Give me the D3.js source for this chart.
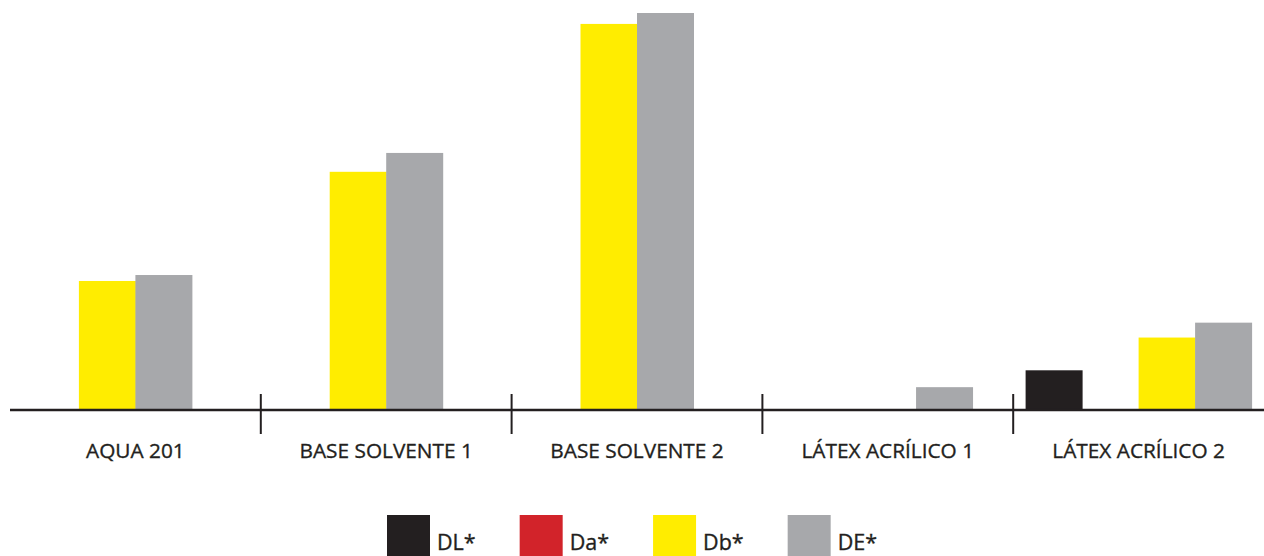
<!DOCTYPE html>
<html lang="es">
<head>
  <meta charset="UTF-8">
  <title>DL* Da* Db* DE*</title>
  <script src="https://d3js.org/d3.v7.min.js"></script>
  <style>
    html, body {
      padding: 0;
      margin: 0;
      background: #fff;
    }
    svg {
      display: block;
      font-family: "Open Sans", "Noto Sans", sans-serif;
    }
    text {
      stroke: #231f20;
      stroke-width: 0.35px;
    }
  </style>
</head>
<body>
  <div id="chart"></div>
  <script>
    // categories and series (null = no bar slot in that group)
    var categories = ["AQUA 201", "BASE SOLVENTE 1", "BASE SOLVENTE 2", "LÁTEX ACRÍLICO 1", "LÁTEX ACRÍLICO 2"];
    var seriesNames = ["DL*", "Da*", "Db*", "DE*"];
    var DL = [null, null, null, 0, 0.40];
    var Da = [null, null, null, null, 0];
    var Db = [1.30, 2.40, 3.89, 0, 0.73];
    var DE = [1.36, 2.59, 4.00, 0.23, 0.88];
    var colors = ["#231f20", "#d2232a", "#ffed00", "#a7a8ab"];

    var width = 1264, height = 556;
    var margin = {top: 13, right: 0, bottom: 146, left: 10};
    var baseY = height - margin.bottom; // 410
    var barWidth = 56.5;

    var svg = d3.select("#chart").append("svg")
      .attr("width", width)
      .attr("height", height);

    var x = d3.scaleBand()
      .domain(categories)
      .range([margin.left, width - margin.right]);

    var y = d3.scaleLinear()
      .domain([0, 4])
      .range([baseY, margin.top]);

    var color = d3.scaleOrdinal().domain(seriesNames).range(colors);

    var allSeries = [DL, Da, Db, DE];

    // build bars: per group, only slots that exist are laid out, centred in the group
    var bars = [];
    categories.forEach(function(cat, i) {
      var keys = seriesNames.filter(function(s, j) { return allSeries[j][i] !== null; });
      var inner = d3.scaleBand()
        .domain(keys)
        .range([0, keys.length * barWidth]);
      var offset = x(cat) + (x.bandwidth() - keys.length * barWidth) / 2;
      keys.forEach(function(k) {
        var v = allSeries[seriesNames.indexOf(k)][i];
        bars.push({cat: cat, key: k, value: v, x: offset + inner(k), w: inner.bandwidth()});
      });
    });

    svg.append("g")
      .selectAll("rect")
      .data(bars.filter(function(d) { return d.value > 0; }))
      .join("rect")
      .attr("x", function(d) { return d.x; })
      .attr("width", function(d) { return d.w + 0.5; })
      .attr("y", function(d) { return y(d.value); })
      .attr("height", function(d) { return y(0) - y(d.value); })
      .attr("fill", function(d) { return color(d.key); });

    // axis line with group separators
    var axis = svg.append("g");
    axis.append("line")
      .attr("x1", margin.left)
      .attr("x2", width)
      .attr("y1", y(0))
      .attr("y2", y(0))
      .attr("stroke", "#231f20")
      .attr("stroke-width", 2.5);

    axis.selectAll(".sep")
      .data(categories.slice(1))
      .join("line")
      .attr("class", "sep")
      .attr("x1", function(d) { return x(d); })
      .attr("x2", function(d) { return x(d); })
      .attr("y1", y(0) - 16)
      .attr("y2", y(0) + 24)
      .attr("stroke", "#231f20")
      .attr("stroke-width", 2);

    axis.selectAll(".lbl")
      .data(categories)
      .join("text")
      .attr("class", "lbl")
      .attr("x", function(d) { return x(d) + x.bandwidth() / 2; })
      .attr("y", y(0) + 48)
      .attr("text-anchor", "middle")
      .attr("font-size", 20.8)
      .attr("fill", "#231f20")
      .text(function(d) { return d; });

    // legend, centred below
    var legend = svg.append("g");
    var items = legend.selectAll("g")
      .data(seriesNames)
      .join("g");
    items.append("rect")
      .attr("width", 43)
      .attr("height", 43)
      .attr("y", 515)
      .attr("fill", function(d) { return color(d); });
    items.append("text")
      .attr("x", 50)
      .attr("y", 550)
      .attr("font-size", 21.5)
      .attr("fill", "#231f20")
      .text(function(d) { return d; });

    var gap = 44;
    var pos = 0;
    items.each(function() {
      var g = d3.select(this);
      g.attr("transform", "translate(" + pos + ",0)");
      pos += 50 + g.select("text").node().getComputedTextLength() + gap;
    });
    var total = pos - gap;
    legend.attr("transform", "translate(" + Math.round(width / 2 - total / 2) + ",0)");
  </script>
</body>
</html>
